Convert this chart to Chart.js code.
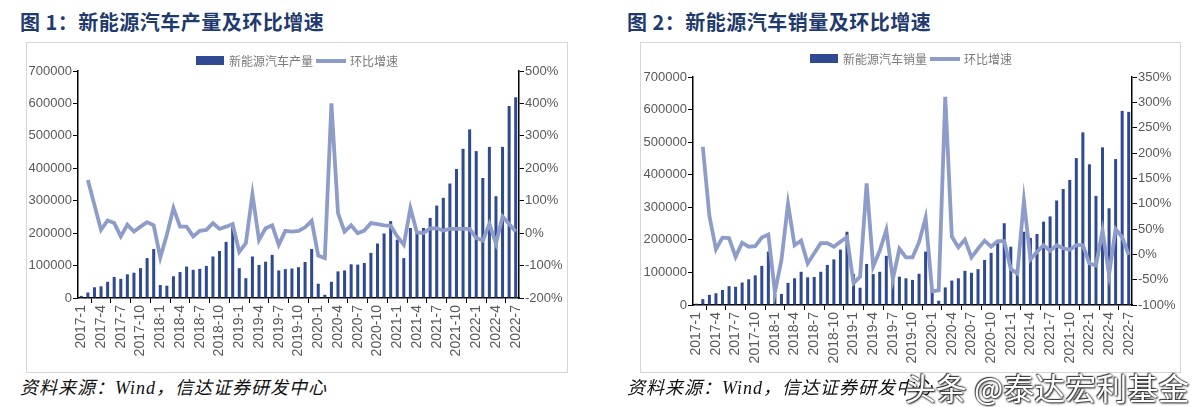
<!DOCTYPE html>
<html>
<head>
<meta charset="utf-8">
<script src="https://cdn.jsdelivr.net/npm/chart.js@4.4.0/dist/chart.umd.min.js"></script>
<style>
  body { margin: 0; width: 1200px; height: 407px; background: #fff; position: relative; overflow: hidden; }
  .title { position: absolute; top: 7px; font: bold 20px "Noto Sans CJK SC", sans-serif; color: #1f3a6e; white-space: nowrap; letter-spacing: 0.5px; }
  .frame { position: absolute; top: 42px; height: 331px; border: 1.5px solid #d6d6d6; box-sizing: border-box; }
  .wrap { position: absolute; top: 42px; height: 330px; }
  .legend { position: absolute; font: 12px "Noto Sans CJK SC", sans-serif; color: #7a7a7a; white-space: nowrap; display: flex; align-items: center; }
  .legend .bar { display: inline-block; width: 28px; height: 9px; background: #2f4a92; margin-right: 5px; }
  .legend .line { display: inline-block; width: 30px; height: 4px; background: #8e9cc9; margin: 0 4px 0 3px; }
  .src { position: absolute; top: 373px; font: italic 18px "Liberation Serif", "Noto Sans CJK SC", serif; color: #111; white-space: nowrap; letter-spacing: 1px; }
  .mark { position: absolute; left: 905px; top: 364px; font: 31px "Noto Sans CJK SC", sans-serif; color: #fff; white-space: nowrap;
          text-shadow: 0 0 2px #222, 1px 1px 2px #222, -1px -1px 1px #444; }
</style>
</head>
<body>
<div class="title" style="left:20px">图 1：新能源汽车产量及环比增速</div>
<div class="title" style="left:627px">图 2：新能源汽车销量及环比增速</div>

<div class="frame" style="left:26px;width:542px"></div>
<div class="frame" style="left:640px;width:541px"></div>

<div class="wrap" style="left:26px;width:541px"><canvas id="c1" width="541" height="330"></canvas></div>
<div class="wrap" style="left:640px;width:540px"><canvas id="c2" width="540" height="330"></canvas></div>

<div class="legend" style="left:196px;top:52px"><span class="bar"></span>新能源汽车产量<span class="line"></span>环比增速</div>
<div class="legend" style="left:810px;top:50px"><span class="bar"></span>新能源汽车销量<span class="line"></span>环比增速</div>

<div class="src" style="left:20px">资料来源：Wind，信达证券研发中心</div>
<div class="src" style="left:627px">资料来源：Wind，信达证券研发中心</div>
<div class="mark">头条 @泰达宏利基金</div>

<script>
const months = [
  '2017-1','2017-2','2017-3','2017-4','2017-5','2017-6','2017-7','2017-8','2017-9','2017-10','2017-11','2017-12',
  '2018-1','2018-2','2018-3','2018-4','2018-5','2018-6','2018-7','2018-8','2018-9','2018-10','2018-11','2018-12',
  '2019-1','2019-2','2019-3','2019-4','2019-5','2019-6','2019-7','2019-8','2019-9','2019-10','2019-11','2019-12',
  '2020-1','2020-2','2020-3','2020-4','2020-5','2020-6','2020-7','2020-8','2020-9','2020-10','2020-11','2020-12',
  '2021-1','2021-2','2021-3','2021-4','2021-5','2021-6','2021-7','2021-8','2021-9','2021-10','2021-11','2021-12',
  '2022-1','2022-2','2022-3','2022-4','2022-5','2022-6','2022-7'
];

// 图1 产量（辆）及环比（%）
const production = [
  6500, 17000, 33000, 36000, 50000, 65000, 59000, 73000, 78000, 92000, 123000, 151000,
  40000, 38000, 67000, 80000, 97000, 87000, 90000, 99000, 128000, 145000, 173000, 218000,
  92000, 61000, 128000, 102000, 112000, 133000, 85000, 89000, 91000, 95000, 111000, 151000,
  44000, 10000, 50000, 82000, 85000, 104000, 103000, 108000, 139000, 168000, 199000, 237000,
  180000, 123000, 216000, 200000, 216000, 247000, 285000, 309000, 353000, 398000, 460000, 520000,
  453000, 370000, 466000, 314000, 466000, 592000, 619000
];
const productionMoM = [
  null, 164, 87, 10, 39, 31, -10, 26, 5, 20, 34, 24,
  -75, -5, 77, 20, 20, -10, 7, 10, 31, 13, 20, 28,
  -58, -31, 120, -21, 15, 24, -36, 7, 5, 7, 18, 38,
  -69, -77, 400, 62, 5, 24, 0, 8, 31, 28, 24, 23,
  -10, -36, 77, 2, 0, 15, 15, 8, 13, 13, 13, 13,
  -15, -23, 29, -32, 51, 28, 5
];

// 图2 销量（辆）及环比（%）
const sales = [
  4000, 18000, 31000, 36000, 46000, 58000, 56000, 69000, 79000, 91000, 120000, 164000,
  33000, 34000, 68000, 82000, 102000, 85000, 86000, 102000, 123000, 140000, 170000, 225000,
  95000, 53000, 126000, 95000, 102000, 151000, 77000, 87000, 82000, 77000, 96000, 164000,
  44000, 13000, 54000, 75000, 82000, 105000, 99000, 110000, 138000, 160000, 190000, 251000,
  179000, 110000, 225000, 206000, 218000, 256000, 272000, 321000, 356000, 384000, 451000, 530000,
  432000, 335000, 484000, 297000, 448000, 596000, 593000
];
const salesMoM = [
  null, 212, 76, 10, 33, 32, -5, 23, 15, 16, 33, 39,
  -75, -11, 100, 18, 27, -18, 2, 22, 22, 15, 25, 34,
  -57, -44, 140, -24, 7, 48, -49, 11, -6, -6, 24, 72,
  -73, -71, 311, 35, 14, 29, -6, 11, 27, 15, 26, 26,
  -29, -38, 106, -10, 5, 18, 7, 18, 12, 9, 18, 18,
  -18, -22, 47, -40, 50, 34, -1
];

const leftTicks = { min: 0, max: 700000, step: 100000 };
const rightTicks1 = { min: -200, max: 500, step: 100 };
const rightTicks2 = { min: -100, max: 350, step: 50 };

const tickColor = '#595959';

function makeChart(id, bars, rates, right, box) {
  new Chart(document.getElementById(id), {
    data: {
      labels: months,
      datasets: [
        {
          type: 'line', data: rates, yAxisID: 'y1', order: 0,
          borderColor: '#8e9cc9', borderWidth: 3.8, pointRadius: 0, tension: 0, spanGaps: false
        },
        {
          type: 'bar', data: bars, yAxisID: 'y', order: 1,
          backgroundColor: '#2f4a92', categoryPercentage: 1, barPercentage: 0.46
        }
      ]
    },
    options: {
      responsive: false,
      animation: false,
      layout: { padding: { top: box.top, left: 0, right: 0, bottom: 0 } },
      plugins: { legend: { display: false }, tooltip: { enabled: false } },
      scales: {
        x: {
          grid: { drawOnChartArea: false, drawTicks: true, tickLength: 5, color: '#000', offset: true },
          border: { color: '#000', width: 1.5 },
          ticks: {
            autoSkip: false, maxRotation: 90, minRotation: 90, padding: 2,
            color: tickColor, font: { family: 'Liberation Sans', size: 14 },
            callback: (v, i) => (i % 3 === 0 ? months[i] : null)
          },
          afterFit: s => { s.height = box.bottom; }
        },
        y: {
          position: 'left', min: leftTicks.min, max: leftTicks.max,
          grid: { drawOnChartArea: false, drawTicks: true, tickLength: 5, color: '#000' },
          border: { color: '#000', width: 1.5 },
          ticks: { stepSize: leftTicks.step, padding: 1, color: tickColor, font: { family: 'Liberation Sans', size: 13 },
                   callback: v => String(v) },
          afterFit: s => { s.width = box.left; }
        },
        y1: {
          position: 'right', min: right.min, max: right.max,
          grid: { drawOnChartArea: false, drawTicks: true, tickLength: 5, color: '#000' },
          border: { color: '#000', width: 1.5 },
          ticks: { stepSize: right.step, padding: 1, color: tickColor, font: { family: 'Liberation Sans', size: 13 },
                   callback: v => v + '%' },
          afterFit: s => { s.width = box.right; }
        }
      }
    }
  });
}

makeChart('c1', production, productionMoM, rightTicks1, { top: 29, left: 52, right: 48, bottom: 74 });
makeChart('c2', sales, salesMoM, rightTicks2, { top: 35, left: 53, right: 48, bottom: 67 });
</script>
</body>
</html>
